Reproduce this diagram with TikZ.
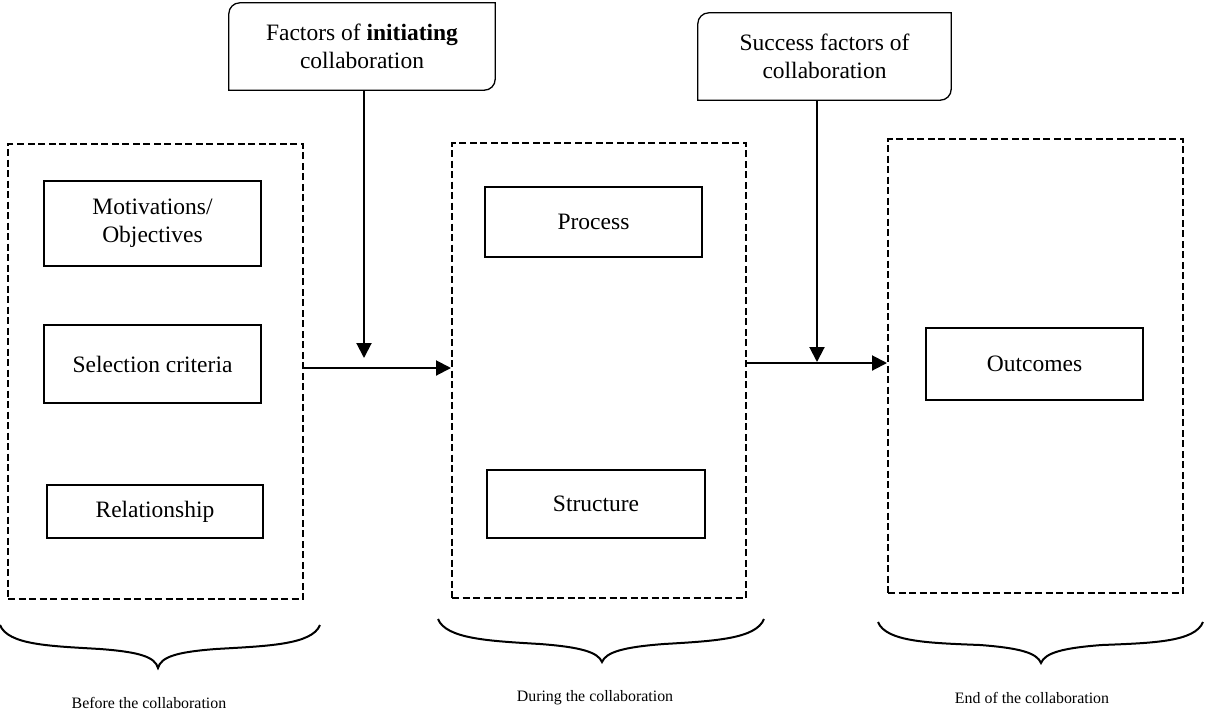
\documentclass[tikz,border=0pt]{standalone}
\usepackage{fontspec}
\setmainfont{Liberation Serif}
\usetikzlibrary{arrows.meta}
\begin{document}
\begin{tikzpicture}[x=1pt,y=-1pt,
  bigtext/.style={font=\fontsize{23.5}{28}\selectfont, align=center},
  smalltext/.style={font=\fontsize{15.9}{19}\selectfont},
  phasebox/.style={draw, dashed, dash pattern=on 7pt off 3.5pt, line width=2pt, inner sep=0pt},
  itembox/.style={draw, line width=1.3pt, inner sep=0pt, bigtext},
  topbox/.style={inner sep=0pt, bigtext},
  flow/.style={line width=2pt, -{Triangle[length=15pt,width=15pt]}},
  bracepath/.style={line width=2pt}
]
\useasboundingbox (0,0) rectangle (1205,713);

% phase (dashed) boxes
\node[phasebox, minimum width=295pt, minimum height=455pt] (d1) at (155.5,371.5) {};
\node[phasebox, minimum width=294pt, minimum height=455pt] (d2) at (599,370.5) {};
\node[phasebox, minimum width=295pt, minimum height=454pt] (d3) at (1035.5,366) {};

% inner boxes
\node[itembox, minimum width=217pt, minimum height=85pt] (m1) at (152.5,223.5) {Motivations/\\Objectives};
\node[itembox, minimum width=217pt, minimum height=78pt] (m2) at (152.5,364) {Selection criteria};
\node[itembox, minimum width=216pt, minimum height=53pt] (m3) at (155,511.5) {Relationship};
\node[itembox, minimum width=217pt, minimum height=70pt] (p1) at (593.5,222) {Process};
\node[itembox, minimum width=218pt, minimum height=68pt] (p2) at (596,504) {Structure};
\node[itembox, minimum width=217pt, minimum height=72pt] (o1) at (1034.5,364) {Outcomes};

% top factor boxes
\node[topbox, minimum width=266pt, minimum height=87pt] (t1) at (362,46.5) {Factors of \textbf{initiating}\\collaboration};
\node[topbox, minimum width=253pt, minimum height=87pt] (t2) at (824.5,56.5) {Success factors of\\collaboration};
\foreach \n in {t1,t2}{
  \draw[line width=1.3pt] (\n.west) [rounded corners=11pt] -- (\n.north west) -- (\n.north)
    [sharp corners] -- (\n.north east) -- (\n.east)
    [rounded corners=11pt] -- (\n.south east) -- (\n.south)
    [sharp corners] -- (\n.south west) -- cycle;
}

% arrows
\coordinate (a1end) at (364,358);
\coordinate (a2end) at (817,362);
\draw[flow] (t1.south -| a1end) -- (a1end);
\draw[flow] (t2.south -| a2end) -- (a2end);
\draw[flow] (d1.east |- 0,368) -- (d2.west |- 0,368);
\draw[flow] (d2.east |- 0,363) -- (d3.west |- 0,363);

% braces
\draw[bracepath] (0,625) .. controls (8,645) and (50,646) .. (100,649)
  .. controls (140,652) and (155,657) .. (158,668)
  .. controls (161,657) and (176,652) .. (216,649)
  .. controls (266,646) and (312,645) .. (320,625);
\draw[bracepath] (438,619) .. controls (446,639) and (490,641) .. (540,644)
  .. controls (580,647) and (598,652) .. (602,662)
  .. controls (606,652) and (624,647) .. (664,644)
  .. controls (714,641) and (756,639) .. (764,619);
\draw[bracepath] (878,622) .. controls (886,642) and (930,643) .. (980,645)
  .. controls (1020,648) and (1037,653) .. (1041,663)
  .. controls (1045,653) and (1062,648) .. (1102,645)
  .. controls (1152,643) and (1195,642) .. (1203,622);

% phase labels
\node[smalltext] (l1) at (149,703) {Before the collaboration};
\node[smalltext] (l2) at (595,698) {During the collaboration};
\node[smalltext] (l3) at (1032,698) {End of the collaboration};
\end{tikzpicture}
\end{document}
